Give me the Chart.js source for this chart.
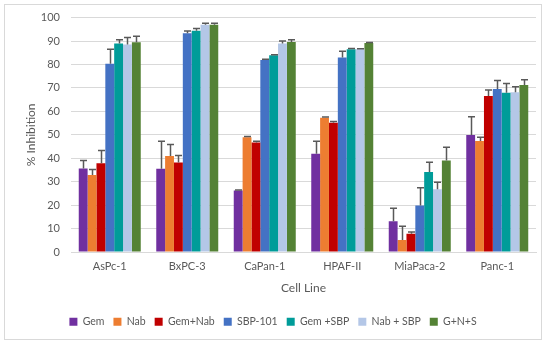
<!DOCTYPE html>
<html>
<head>
<meta charset="utf-8">
<script src="https://cdn.jsdelivr.net/npm/chart.js@4/dist/chart.umd.min.js"></script>
<style>
  html, body { margin: 0; padding: 0; background: #fff; }
  canvas { display: block; }
</style>
</head>
<body>
<canvas id="inhibition" width="550" height="348"></canvas>
<script>
const cellLines = ['AsPc-1', 'BxPC-3', 'CaPan-1', 'HPAF-II', 'MiaPaca-2', 'Panc-1'];
const yTicks = [0, 10, 20, 30, 40, 50, 60, 70, 80, 90, 100];

// mean % inhibition per cell line, and the upper SD for each
const gem = [35.6, 35.5, 26.2, 41.9, 13.1, 49.9];
const gemErr = [3.4, 11.8, 0.3, 5.4, 5.6, 7.8];
const nab = [32.9, 41.0, 49.0, 57.3, 5.1, 47.4];
const nabErr = [2.3, 4.9, 0.3, 0.3, 5.9, 1.6];
const gemNab = [37.9, 38.2, 46.7, 55.1, 7.8, 66.5];
const gemNabErr = [5.4, 3.0, 0.6, 0.6, 0.7, 2.6];
const sbp = [80.3, 93.3, 81.9, 83.0, 19.8, 69.5];
const sbpErr = [6.2, 1.0, 0.3, 2.6, 7.6, 3.7];
const gemSbp = [89.0, 94.4, 83.9, 86.5, 34.1, 67.9];
const gemSbpErr = [1.5, 1.0, 0.2, 0.3, 4.2, 4.0];
const nabSbp = [88.5, 97.0, 89.0, 86.5, 26.8, 68.2];
const nabSbpErr = [3.0, 0.6, 1.0, 0.2, 3.0, 2.3];
const gns = [89.5, 96.9, 89.6, 89.2, 39.0, 71.2];
const gnsErr = [2.5, 0.7, 0.9, 0.2, 5.7, 2.3];

const series = [
    { label: 'Gem', data: gem, errors: gemErr, color: '#7030A0' },
    { label: 'Nab', data: nab, errors: nabErr, color: '#ED7D31' },
    { label: 'Gem+Nab', data: gemNab, errors: gemNabErr, color: '#C00000' },
    { label: 'SBP-101', data: sbp, errors: sbpErr, color: '#4472C4' },
    { label: 'Gem +SBP', data: gemSbp, errors: gemSbpErr, color: '#009C99' },
    { label: 'Nab + SBP', data: nabSbp, errors: nabSbpErr, color: '#B4C7E7' },
    { label: 'G+N+S', data: gns, errors: gnsErr, color: '#548235' },
];

const textColor = '#595959';
const fontFamily = 'Lato, "Liberation Sans", sans-serif';

// one-sided error bars with a cap, drawn on top of the bars
const errorBars = {
    id: 'errorBars',
    afterDatasetsDraw(chart) {
        const { ctx } = chart;
        const y = chart.scales.y;
        ctx.save();
        ctx.strokeStyle = '#595959';
        ctx.lineWidth = 1.5;
        chart.data.datasets.forEach((ds, i) => {
            const meta = chart.getDatasetMeta(i);
            meta.data.forEach((bar, j) => {
                const top = y.getPixelForValue(ds.data[j] + ds.errors[j]);
                const x = Math.round(bar.x) + 0.5;
                ctx.beginPath();
                ctx.moveTo(x, bar.y);
                ctx.lineTo(x, top);
                ctx.moveTo(x - 3.5, top);
                ctx.lineTo(x + 3.5, top);
                ctx.stroke();
            });
        });
        ctx.restore();
    },
};

// white background and the thin outer frame
const frame = {
    id: 'frame',
    beforeDraw(chart) {
        const { ctx } = chart;
        ctx.save();
        ctx.fillStyle = '#fff';
        ctx.fillRect(0, 0, chart.width, chart.height);
        ctx.strokeStyle = '#d9d9d9';
        ctx.lineWidth = 1;
        ctx.strokeRect(4.5, 4.5, 537, 335);
        ctx.restore();
    },
};

new Chart(document.getElementById('inhibition'), {
    type: 'bar',
    data: {
        labels: cellLines,
        datasets: series.map((s) => ({
            label: s.label,
            data: s.data,
            errors: s.errors,
            backgroundColor: s.color,
            borderWidth: 0,
            categoryPercentage: 0.8,
            barPercentage: 1.0,
        })),
    },
    options: {
        responsive: false,
        devicePixelRatio: 1,
        animation: false,
        layout: { padding: { left: 10, right: 14, top: 13, bottom: 11 } },
        plugins: {
            tooltip: { enabled: false },
            legend: {
                position: 'bottom',
                labels: {
                    boxWidth: 8,
                    boxHeight: 8,
                    padding: 9,
                    color: textColor,
                    font: { family: fontFamily, size: 10.5 },
                },
            },
        },
        scales: {
            x: {
                grid: { display: false, drawTicks: false },
                border: { color: '#d9d9d9' },
                ticks: { color: textColor, padding: 8, font: { family: fontFamily, size: 11 } },
                title: {
                    display: true,
                    text: 'Cell Line',
                    color: textColor,
                    font: { family: fontFamily, size: 12 },
                    padding: { top: 4, bottom: 12 },
                },
                afterFit(scale) { scale.height = 55.5; },
            },
            y: {
                min: 0,
                max: 100,
                afterBuildTicks(scale) { scale.ticks = yTicks.map((v) => ({ value: v })); },
                grid: { color: '#d9d9d9', drawTicks: false },
                border: { display: false },
                ticks: { color: textColor, padding: 11, font: { family: fontFamily, size: 11 } },
                title: {
                    display: true,
                    text: '% Inhibition',
                    color: textColor,
                    font: { family: fontFamily, size: 12 },
                    padding: { top: 14, bottom: 4 },
                },
                afterFit(scale) { scale.width = 61; },
            },
        },
    },
    plugins: [frame, errorBars],
});
</script>
</body>
</html>
